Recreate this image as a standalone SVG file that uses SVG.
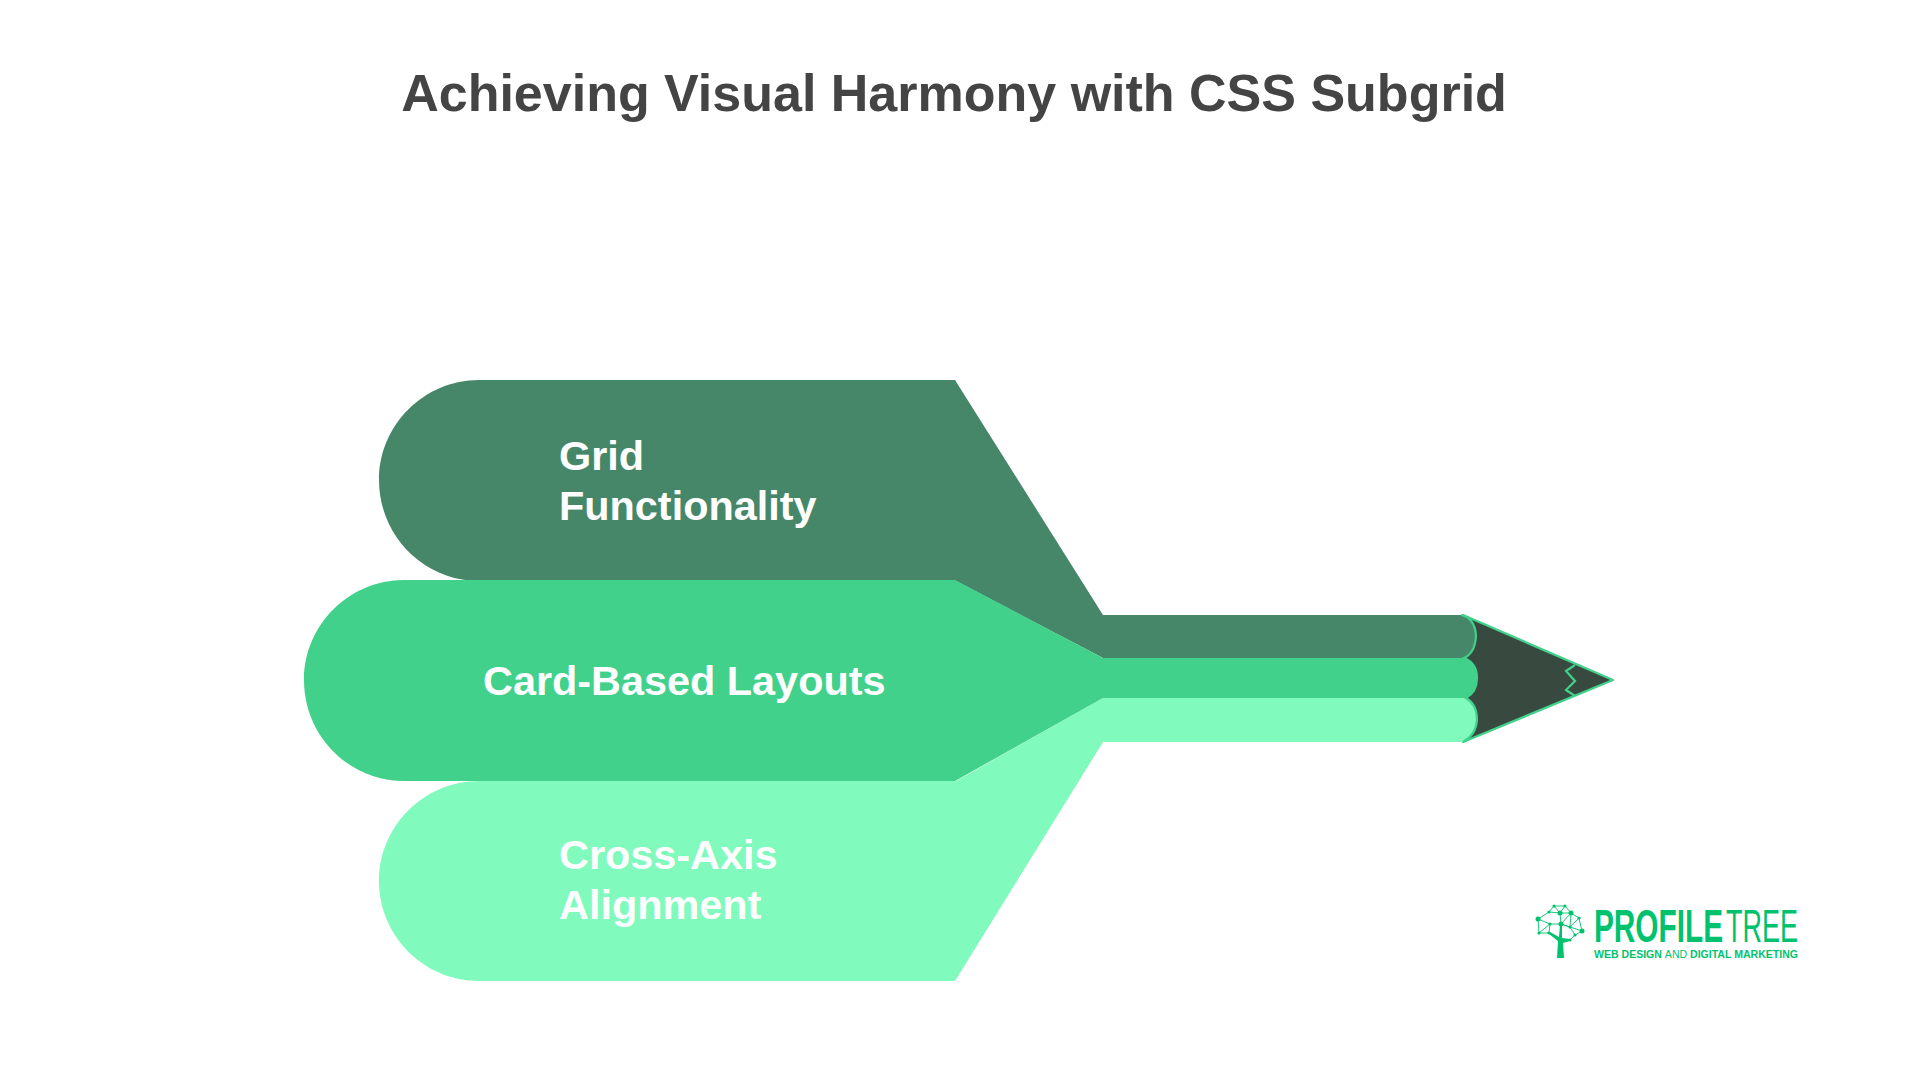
<svg xmlns="http://www.w3.org/2000/svg" width="1920" height="1080" viewBox="0 0 1920 1080">
<style>
text{font-family:"Liberation Sans",Arial,sans-serif;font-weight:700}
.lbl{font-size:41.4px;fill:#fff}
.edge{stroke:#41d18b;stroke-width:2.2;fill:none}
.ln{stroke:#00c26e;stroke-width:.9;fill:none}
.dot{fill:#00c26e}
</style>
<rect width="1920" height="1080" fill="#fff"/>
<text x="954" y="111" text-anchor="middle" font-size="52" fill="#444">Achieving Visual Harmony with CSS Subgrid</text>
<g id="pencil-tip">
<path d="M1463 615L1613 680L1463 742Z" fill="#384a40" stroke="#41d18b" stroke-width="2.2" stroke-linejoin="round"/>
<path class="edge" d="M1575 665L1566 671L1575 681L1566 690L1575 696"/>
</g>
<g id="node-grid">
<path d="M479 380H955L1103 615H1461Q1475 618 1476 636Q1475 653 1464 658H1103L956 581H479C424 581 379 536 379 480C379 425 424 380 479 380Z" fill="#468769"/>
</g>
<g id="node-cross">
<path d="M479 781H956L1103 698H1466Q1477 704 1477 720Q1476 735 1463 742H1103L955 981H479C424 981 379 936 379 881C379 826 424 781 479 781Z" fill="#80fabd"/>
</g>
<g id="node-card">
<path d="M404 580H955L1103 658H1464Q1477 663 1477 678Q1477 692 1466 698H1103L955 781H404C349 781 304 736 304 680C304 625 349 580 404 580Z" fill="#41d18b"/>
</g>
<g id="tip-edges">
<path class="edge" d="M1461 615Q1475 618 1476 636Q1475 653 1464 658Q1477 663 1477 678Q1477 692 1466 698Q1477 704 1477 720Q1476 735 1463 742"/>
</g>
<g id="labels">
<text class="lbl" x="559" y="470">Grid</text>
<text class="lbl" x="559" y="520">Functionality</text>
<text class="lbl" x="483" y="695">Card-Based Layouts</text>
<text class="lbl" x="559" y="869">Cross-Axis</text>
<text class="lbl" x="559" y="919">Alignment</text>
</g>
<g id="logo">
<path class="dot" d="M1557 958L1558 941L1549 934L1550 932L1559 937L1560 925L1562 925L1562 938L1570 939L1570 941L1563 943L1564 958Z"/>
<path class="ln" d="M1554 906L1565 906L1571 913L1579 918L1582 931L1575 935L1570 940M1554 906L1549 912L1538 919L1539 933L1549 933L1550 924L1561 924L1570 927L1582 931M1549 912L1560 913L1571 913L1570 927L1575 935M1554 906L1560 913L1561 924M1565 906L1560 913M1538 919L1550 924L1539 933M1579 918L1570 927L1561 924M1571 913L1561 924"/>
<circle class="dot" cx="1554" cy="906" r="1.6"/><circle class="dot" cx="1565" cy="906" r="1.6"/><circle class="dot" cx="1549" cy="912" r="1.6"/><circle class="dot" cx="1560" cy="913" r="2.5"/><circle class="dot" cx="1571" cy="913" r="2.5"/><circle class="dot" cx="1579" cy="918" r="1.6"/><circle class="dot" cx="1538" cy="919" r="2.5"/><circle class="dot" cx="1550" cy="924" r="1.6"/><circle class="dot" cx="1561" cy="924" r="2.5"/><circle class="dot" cx="1570" cy="927" r="1.6"/><circle class="dot" cx="1582" cy="931" r="2.5"/><circle class="dot" cx="1539" cy="933" r="1.6"/><circle class="dot" cx="1549" cy="933" r="1.6"/><circle class="dot" cx="1575" cy="935" r="1.6"/><circle class="dot" cx="1570" cy="940" r="1.6"/>
<text x="1594" y="942" font-size="46" fill="#00c26e" textLength="129" lengthAdjust="spacingAndGlyphs">PROFILE</text>
<text x="1726" y="942" font-size="46" fill="#00c26e" style="font-weight:400" textLength="72" lengthAdjust="spacingAndGlyphs">TREE</text>
<text x="1594" y="958" font-size="10.5" fill="#00c26e" textLength="204" lengthAdjust="spacingAndGlyphs">WEB DESIGN <tspan style="font-weight:400">AND</tspan> DIGITAL MARKETING</text>
</g>
</svg>
